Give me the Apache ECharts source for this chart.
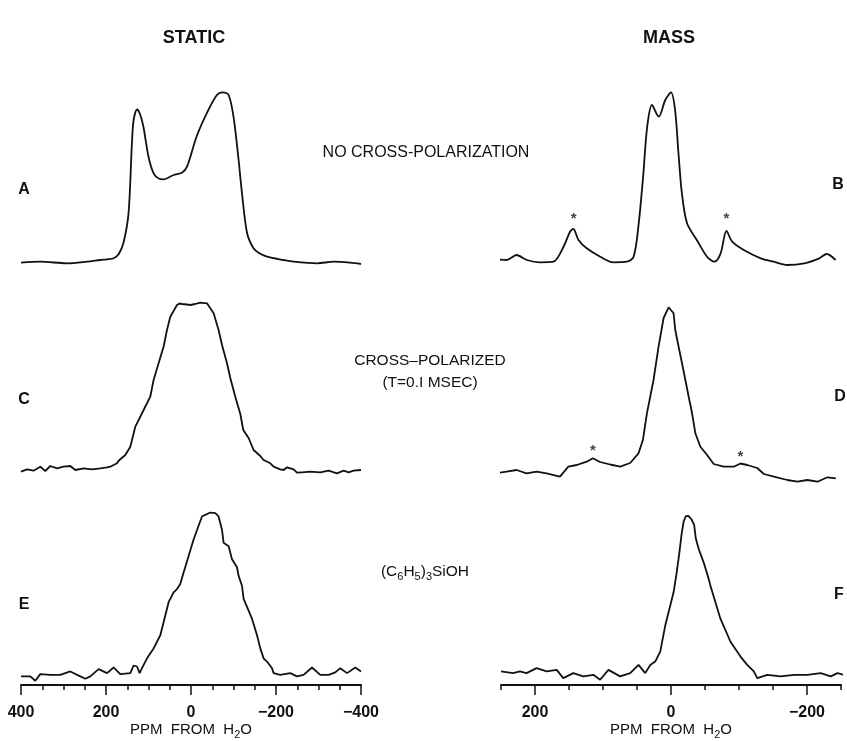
<!DOCTYPE html>
<html><head><meta charset="utf-8">
<script src="https://cdn.jsdelivr.net/npm/echarts@6/dist/echarts.min.js"></script>
<style>html,body{margin:0;padding:0;background:#fff}#c{width:847px;height:741px}</style>
</head><body><div id="c"></div>
<script>
// ---- data: [ppm from H2O, intensity (arbitrary units)] ----
const specA = [[400,7.3],[354.6,8.3],[291.8,6.7],[244.7,8.3],[213.4,10],[197.6,10.7],[182,11.7],[170,16],[159,27],[147,56.7],[139,127],[135,150],[127,160.7],[120,156],[112,143.3],[100,113.3],[88,96.7],[76,91.5],[64.5,90.7],[50,93],[40.9,95],[21.2,97.3],[9.4,103.3],[-13,133.3],[-37,156.7],[-61,175],[-75,177.7],[-88.5,175],[-100,153.3],[-112,110],[-120,76.7],[-132,36.7],[-147,21.7],[-160,17],[-179,13.3],[-217,10],[-241.4,8.3],[-296.5,6.7],[-335.5,8.3],[-374.8,7.3],[-400,6]];
const specB = [[257,10.7],[242,10],[227,15],[212,10],[193,7.7],[173,8.3],[158,23.3],[148.5,38.3],[143.6,41],[136,30],[124,21.7],[104,13.3],[85,7.7],[65,8.3],[55,13.3],[48,43.3],[41,93.3],[35,143.3],[28,165],[18,153.3],[8.4,170],[0,177.7],[-6,160],[-11,116.7],[-16,76.7],[-23.6,46.7],[-38,30],[-53,13.3],[-64,8.3],[-73,16.7],[-81.6,39],[-90,28.3],[-107,20],[-132,11.7],[-151,8.3],[-171,5],[-196,6.7],[-218,11.7],[-229,16],[-242,10]];
const specC = [[400,8.3],[385.9,10.7],[370.4,9.3],[354.6,13.3],[342.8,9],[331.1,14],[315.3,11.7],[299.8,13.3],[284,14],[272.2,10],[252.7,11.7],[232.9,10.7],[213.4,11.7],[197.6,12.7],[189.9,13.3],[174.1,16.7],[170.4,19.3],[154.6,25],[142.8,33.3],[131.1,53.3],[127.1,56.7],[111.5,70],[95.8,83.3],[88,100],[76.3,116.7],[64.5,133.3],[56.5,150],[48.7,163.3],[32.9,175],[27,176.5],[21.2,176],[10,175.5],[1.6,175],[-10,176],[-21.9,177.3],[-37.6,176.7],[-53.2,166.7],[-64.9,150],[-73.6,134],[-84.7,116.7],[-92.5,102],[-104.2,83.3],[-116,66],[-123,50],[-135.5,42],[-147.3,30],[-163,24],[-170.8,20],[-186.6,16.7],[-194.4,13.3],[-210.1,10.7],[-218,10],[-225.9,12.7],[-241.4,10.7],[-249.4,7.3],[-261.2,7.7],[-280.7,8.3],[-304.2,7.7],[-323.8,9.3],[-343.5,6.7],[-359.1,9.3],[-370.8,7.7],[-382.6,9.3],[-400,10]];
const specD = [[257.7,6.7],[241.9,8.3],[227.1,10],[212.4,6.7],[197.6,8.3],[182.9,6.7],[163.3,3.3],[151,13.3],[138.6,15],[123.9,18.3],[115,21.7],[104.3,18],[89.5,15.5],[74.8,13.3],[60,17],[47.8,26.7],[41.3,40],[35.4,66.7],[25.7,100],[18.3,133.3],[10.9,162],[3.5,172.7],[-3.8,166.7],[-6.3,150],[-11.2,133.3],[-16.2,116.7],[-21.1,100],[-26,83.3],[-31,66.7],[-35.8,46.7],[-43.2,33.3],[-53.1,25],[-62.8,16],[-77.6,13.3],[-92.3,13.3],[-102.2,16.5],[-112.1,15],[-126.8,12],[-136.6,6],[-151.3,3.3],[-171.1,0],[-185.8,-1.7],[-200.6,0],[-215.3,-1.7],[-230.1,2.7],[-242.3,1.7]];
const specE = [[400,8.7],[378.1,8.7],[366.4,4.3],[354.6,11],[331.1,10.3],[307.5,10.3],[284,13.7],[260.5,8.7],[248.7,6.3],[236.9,8.7],[217.4,16],[197.6,12],[182.1,17.7],[166.4,11],[142.8,12],[135,19.7],[127,18.7],[120.9,12],[115.3,17],[103.5,27],[88,37],[72.2,50.3],[60.5,70.3],[52.7,83.7],[40.9,93.7],[33,97],[25.2,102],[17.4,113.7],[5.6,130.3],[-6.1,147],[-20.2,163.7],[-25.9,170.3],[-33.6,172],[-45.4,174.3],[-57.2,173.7],[-64.9,170.3],[-72.9,157],[-76.7,143.7],[-88.5,140.3],[-96.5,127],[-108.2,119],[-112,110.3],[-120,100.3],[-123.8,87],[-143.5,67],[-155.3,50.3],[-163.1,37],[-170.8,27],[-178.8,23.7],[-190.6,17],[-194.4,12],[-210.1,10.3],[-233.6,12],[-249.4,8.7],[-264.9,10.3],[-284.7,17.7],[-304.2,10.3],[-323.8,10.3],[-339.5,12.7],[-351.3,17],[-367.1,12],[-386.6,17.7],[-400,13.7]];
const specF = [[250,13.7],[232.2,12],[222.3,13.7],[212.4,12],[197.6,17],[182.9,13.7],[168.1,15.3],[158.4,7],[143.7,12],[128.9,8.7],[114.2,10.3],[104.3,5.3],[92,15.3],[74.8,8.7],[60,12],[47.8,20.3],[37.9,12],[30.5,20.3],[23.2,23.7],[15.8,33.7],[8.4,60.3],[-3.8,93.7],[-8,112],[-12,132],[-15.5,152],[-18.5,165],[-21.5,170.3],[-25.5,171],[-30,167.5],[-34,162],[-36.5,148],[-41,137],[-48.1,123.7],[-55.5,107],[-58,100.3],[-72.7,67],[-87.5,43.7],[-102.2,28.7],[-112.1,20.3],[-121.8,13.7],[-126.8,7],[-141.6,10.3],[-161.2,8.7],[-180.8,10.3],[-200.6,10.3],[-220.2,12],[-235,8.7],[-244.8,12],[-253.7,10.3]];
// spinning sidebands (*)
const starsB = [[143,55],[-81.6,55]];
const starsD = [[115,33.3],[-102.2,27.3]];
// axes
const staticTickLabels = [400,200,0,-200,-400];
const staticMinorTicks = [400,350,300,250,200,150,100,50,0,-50,-100,-150,-200,-250,-300,-350,-400];
const massTickLabels = [200,0,-200];
const massMinorTicks = [250,200,150,100,50,0,-50,-100,-150,-200,-250];

const FONT = '"Liberation Sans", Arial, sans-serif';
const INK = '#111';
const chart = echarts.init(document.getElementById('c'), null, {renderer:'canvas'});

const colL = {left:21, width:340}, colR = {left:501, width:340};
const grids = [
  Object.assign({top:80, height:200}, colL),
  Object.assign({top:80, height:200}, colR),
  Object.assign({top:290, height:200}, colL),
  Object.assign({top:290, height:200}, colR),
  Object.assign({top:497, height:190}, colL),
  Object.assign({top:497, height:190}, colR)
];
const fmt = v => v < 0 ? '\u2212' + (-v) : String(v);
const hidX = (i, r) => ({gridIndex:i, type:'value', min:-r, max:r, inverse:true, show:false});
const axisName = {
  name:'PPM  FROM  H{s|2}O', nameLocation:'middle', nameGap:35,
  nameTextStyle:{fontFamily:FONT, fontSize:15, color:INK, rich:{s:{fontFamily:FONT, fontSize:11, color:INK, verticalAlign:'bottom', padding:[9,0,0,0]}}}
};
function mainX(i, r, labels, minors) {
  return Object.assign({
    gridIndex:i, type:'value', min:-r, max:r, inverse:true, position:'bottom',
    axisLine:{show:true, onZero:false, lineStyle:{color:INK, width:2}},
    axisTick:{show:true, length:5, lineStyle:{color:INK, width:1.5}, customValues:minors},
    axisLabel:{show:true, customValues:labels, formatter:fmt, margin:20, fontFamily:FONT, fontSize:16, fontWeight:'bold', color:INK},
    splitLine:{show:false}
  }, axisName);
}
function longTickX(i, r, labels) {
  return {gridIndex:i, type:'value', min:-r, max:r, inverse:true, position:'bottom', offset:0,
    axisLine:{show:false, onZero:false}, axisLabel:{show:false}, splitLine:{show:false},
    axisTick:{show:true, length:10, lineStyle:{color:INK, width:1.5}, customValues:labels}};
}
const xAxes = [hidX(0,400), hidX(1,250), hidX(2,400), hidX(3,250),
  mainX(4,400,staticTickLabels,staticMinorTicks), mainX(5,250,massTickLabels,massMinorTicks),
  longTickX(4,400,staticTickLabels), longTickX(5,250,massTickLabels)];
const yAxes = [0,1,2,3,4,5].map(i => ({gridIndex:i, type:'value', show:false, min: i<4 ? -10 : 0, max:190}));

const specs = [specA, specB, specC, specD, specE, specF];
const smoothing = [0.3, 0.3, 0, 0, 0, 0];
const series = specs.map((d,i) => ({
  type:'line', xAxisIndex:i, yAxisIndex:i, data:d, showSymbol:false, clip:false,
  lineStyle:{color:INK, width:1.8}, smooth:smoothing[i], animation:false
}));
[[starsB,1],[starsD,3]].forEach(([d,i]) => series.push({
  type:'scatter', xAxisIndex:i, yAxisIndex:i, data:d, symbolSize:1, animation:false,
  itemStyle:{color:'rgba(0,0,0,0)'},
  label:{show:true, position:'inside', formatter:'*', offset:[0,4], fontFamily:FONT, fontSize:15, fontWeight:'bold', color:INK}
}));

function txt(x, y, text, size, bold) {
  return {type:'text', x:x, y:y, silent:true, style:{text:text, font:(bold?'bold ':'') + size + 'px ' + FONT,
    fill:INK, textAlign:'center', textVerticalAlign:'middle', align:'center', verticalAlign:'middle'}};
}
const subRich = {s:{fontFamily:FONT, fontSize:11, fill:INK, color:INK, verticalAlign:'bottom', padding:[10,0,0,0]}};
const graphic = [
  txt(194, 38, 'STATIC', 18, true), txt(669, 38, 'MASS', 18, true),
  txt(24, 190, 'A', 16, true), txt(838, 185, 'B', 16, true),
  txt(24, 400, 'C', 16, true), txt(840, 397, 'D', 16, true),
  txt(24, 605, 'E', 16, true), txt(839, 595, 'F', 16, true),
  txt(426, 153, 'NO CROSS-POLARIZATION', 16, false),
  txt(430, 361, 'CROSS\u2013POLARIZED', 15.5, false),
  txt(430, 383, '(T=0.I MSEC)', 15.5, false),
  {type:'text', x:425, y:572, silent:true, style:{text:'(C{s|6}H{s|5}){s|3}SiOH', font:'15.5px ' + FONT, fill:INK,
    textAlign:'center', textVerticalAlign:'middle', align:'center', verticalAlign:'middle', rich:subRich}}
];

chart.setOption({
  backgroundColor:'#fff', animation:false,
  grid:grids, xAxis:xAxes, yAxis:yAxes, series:series, graphic:graphic
});
</script></body></html>
